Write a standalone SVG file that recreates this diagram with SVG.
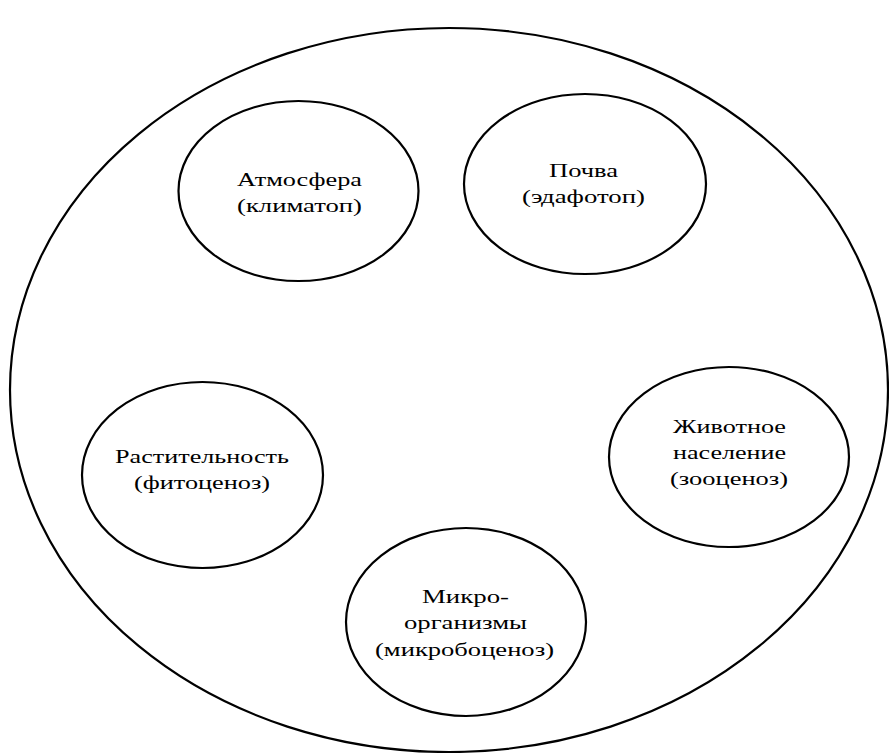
<svg xmlns="http://www.w3.org/2000/svg" width="889" height="753" viewBox="0 0 889 753">
<style>
.e{fill:none;stroke:#000;stroke-width:2.2}
.t{font-family:"Liberation Serif","Times New Roman",serif;font-size:18px;fill:#000;text-anchor:middle}
</style>
<rect width="889" height="753" fill="#fff"/>
<g id="ecosystem">
<ellipse class="e" cx="449" cy="390" rx="439" ry="362"/>
</g>
<g id="atmosfera">
<ellipse class="e" cx="298.5" cy="191" rx="120" ry="90"/>
<text class="t" x="299.5" y="186" textLength="125" lengthAdjust="spacingAndGlyphs">Атмосфера</text>
<text class="t" x="299.5" y="212" textLength="125" lengthAdjust="spacingAndGlyphs">(климатоп)</text>
</g>
<g id="pochva">
<ellipse class="e" cx="585" cy="184" rx="121" ry="90"/>
<text class="t" x="583.5" y="176.5" textLength="69" lengthAdjust="spacingAndGlyphs">Почва</text>
<text class="t" x="583.5" y="203" textLength="123" lengthAdjust="spacingAndGlyphs">(эдафотоп)</text>
</g>
<g id="rastitelnost">
<ellipse class="e" cx="202.5" cy="475" rx="120.5" ry="93"/>
<text class="t" x="202" y="463" textLength="174" lengthAdjust="spacingAndGlyphs">Растительность</text>
<text class="t" x="202" y="489" textLength="136" lengthAdjust="spacingAndGlyphs">(фитоценоз)</text>
</g>
<g id="zhivotnoe">
<ellipse class="e" cx="729" cy="457" rx="120" ry="90"/>
<text class="t" x="729.5" y="433" textLength="113" lengthAdjust="spacingAndGlyphs">Животное</text>
<text class="t" x="729.5" y="459" textLength="113" lengthAdjust="spacingAndGlyphs">население</text>
<text class="t" x="729" y="485" textLength="118" lengthAdjust="spacingAndGlyphs">(зооценоз)</text>
</g>
<g id="mikroorganizmy">
<ellipse class="e" cx="466" cy="622" rx="120" ry="94"/>
<text class="t" x="465.5" y="603" textLength="87" lengthAdjust="spacingAndGlyphs">Микро-</text>
<text class="t" x="465.5" y="629" textLength="123" lengthAdjust="spacingAndGlyphs">организмы</text>
<text class="t" x="464.5" y="656" textLength="179" lengthAdjust="spacingAndGlyphs">(микробоценоз)</text>
</g>
<g id="connectors"/>
</svg>
